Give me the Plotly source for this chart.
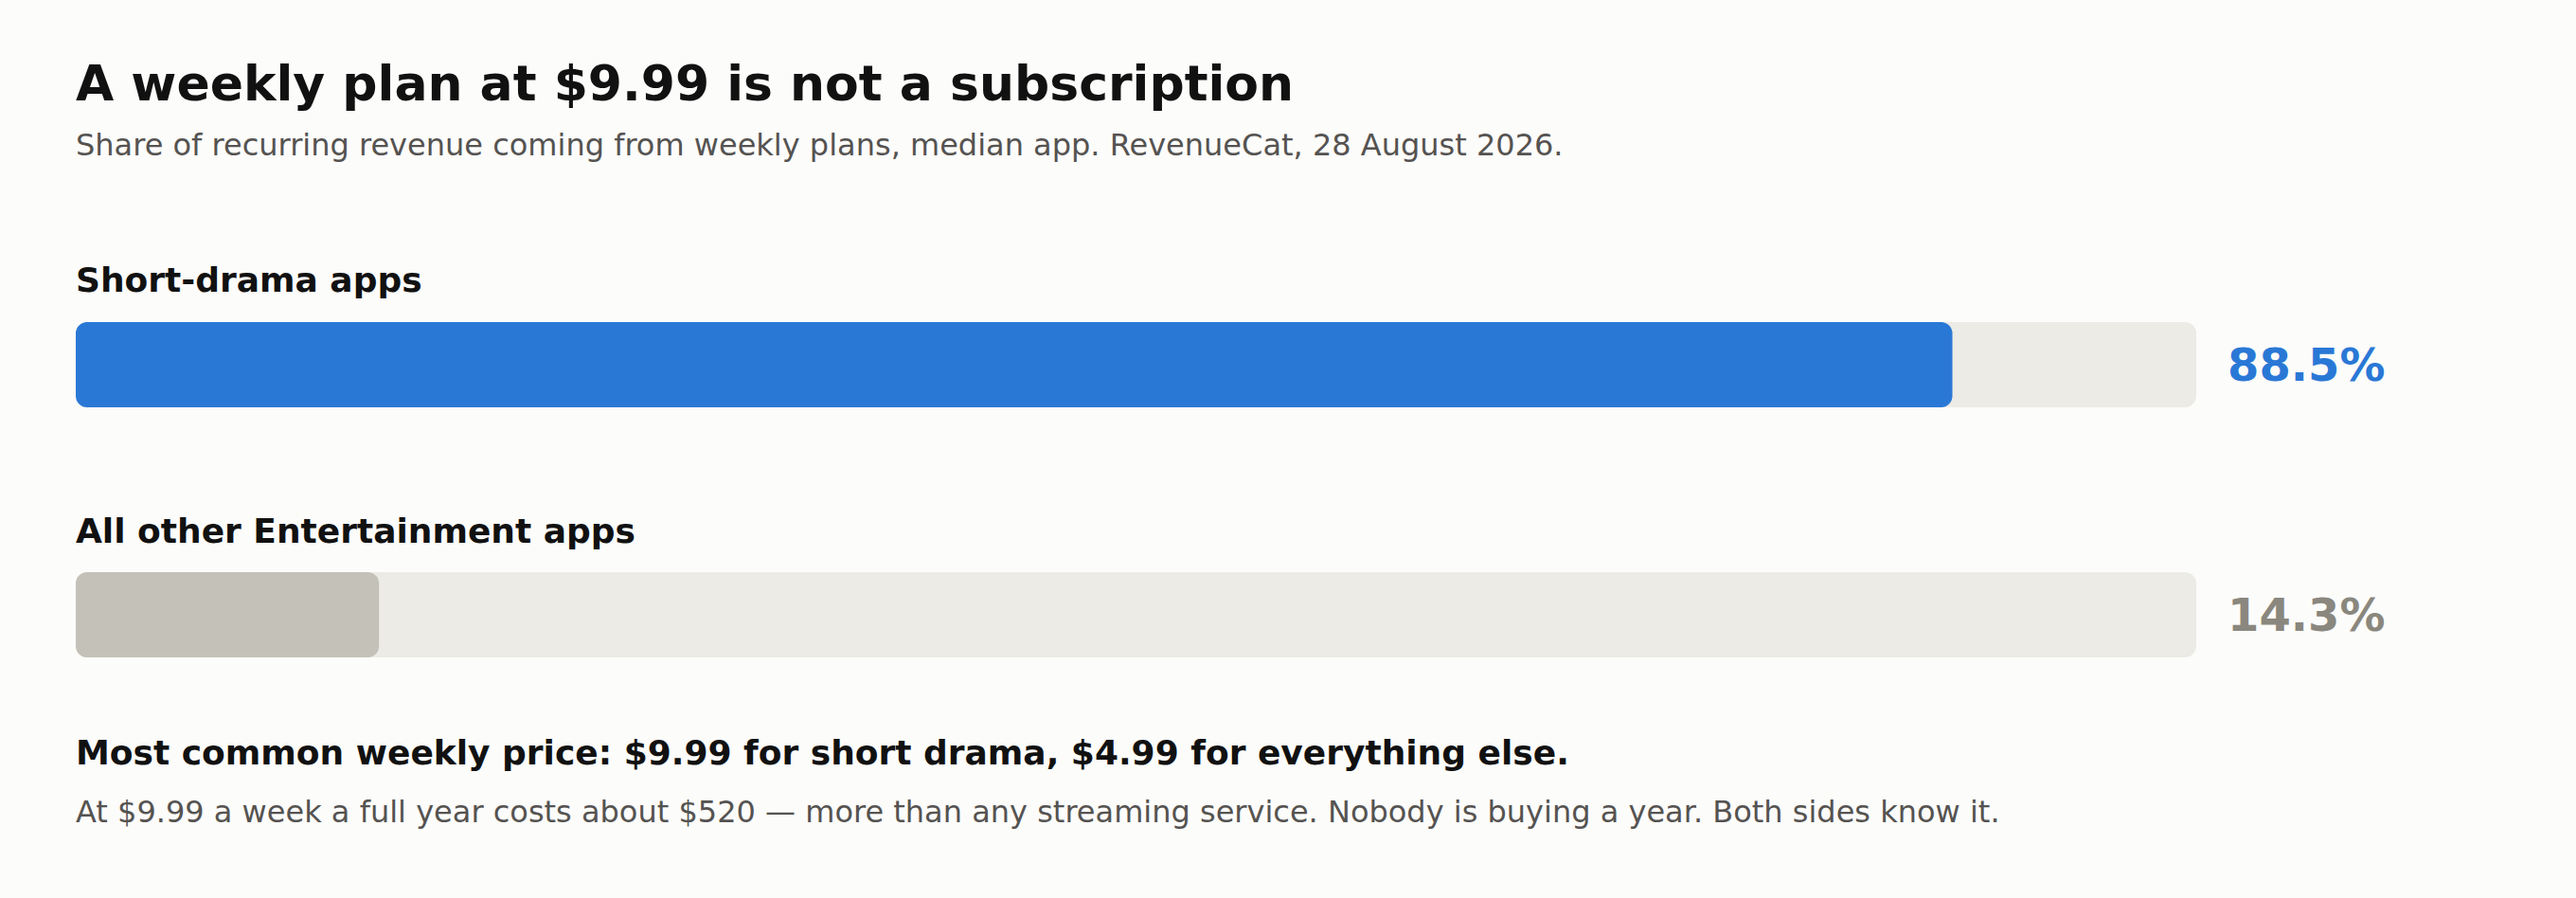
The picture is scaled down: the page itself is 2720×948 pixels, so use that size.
import plotly.graph_objects as go

# ---- data ----
categories = ["Short-drama apps", "All other Entertainment apps"]
weekly_share = [88.5, 14.3]
track_max = [100, 100]
value_labels = ["88.5%", "14.3%"]

title = "A weekly plan at $9.99 is not a subscription"
subtitle = "Share of recurring revenue coming from weekly plans, median app. RevenueCat, 28 August 2026."
note_bold = "Most common weekly price: $9.99 for short drama, $4.99 for everything else."
note_text = "At $9.99 a week a full year costs about $520 \u2014 more than any streaming service. Nobody is buying a year. Both sides know it."

# ---- style ----
W, H = 2720, 948
BG = "#fcfcfa"
TRACK = "#ecebe5"
FILL_COLORS = ["#2a78d6", "#c4c1b9"]
VALUE_COLORS = ["#2a78d6", "#8a877e"]
INK = "#111111"
MUTED = "#555351"
FONT = "DejaVu Sans"
RADIUS = 12

x0_px, x1_px = 80, 2319
c0_px, c1_px = 385, 649  # category centers (px from top)
unit = c1_px - c0_px
top_px = c0_px - unit / 2
bot_px = c1_px + unit / 2
bar_h = 90 / unit

fig = go.Figure()
# an explicit base makes plotly round both ends of each bar
fig.add_trace(go.Bar(
    y=categories, x=track_max, base=[0] * len(categories), orientation="h",
    marker=dict(color=TRACK, cornerradius=RADIUS, line=dict(width=0)),
    width=bar_h, hoverinfo="skip", showlegend=False, yaxis="y",
))
fig.add_trace(go.Bar(
    y=categories, x=weekly_share, base=[0] * len(categories), orientation="h",
    marker=dict(color=FILL_COLORS, cornerradius=RADIUS, line=dict(width=0)),
    width=bar_h, showlegend=False, yaxis="y2",
))


def py(px):
    return 1 - px / H


LX = -2
ann = []
ann.append(dict(text=f"<b>{title}</b>", x=x0_px / W, y=py(88), xref="paper", yref="paper",
                xanchor="left", yanchor="middle", showarrow=False, xshift=LX,
                font=dict(family=FONT, size=52, color=INK)))
ann.append(dict(text=subtitle, x=x0_px / W, y=py(153), xref="paper", yref="paper",
                xanchor="left", yanchor="middle", showarrow=False, xshift=LX,
                font=dict(family=FONT, size=32, color=MUTED)))
label_y = [296, 560]
for cat, ly in zip(categories, label_y):
    ann.append(dict(text=f"<b>{cat}</b>", x=x0_px / W, y=py(ly), xref="paper", yref="paper",
                    xanchor="left", yanchor="middle", showarrow=False, xshift=LX,
                    font=dict(family=FONT, size=36, color=INK)))
for cat, lab, col in zip(categories, value_labels, VALUE_COLORS):
    ann.append(dict(text=f"<b>{lab}</b>", x=100, y=cat, xref="x", yref="y",
                    xanchor="left", yanchor="middle", xshift=31, showarrow=False,
                    font=dict(family=FONT, size=48, color=col)))
ann.append(dict(text=f"<b>{note_bold}</b>", x=x0_px / W, y=py(794), xref="paper", yref="paper",
                xanchor="left", yanchor="middle", showarrow=False, xshift=LX,
                font=dict(family=FONT, size=36, color=INK)))
ann.append(dict(text=note_text, x=x0_px / W, y=py(857), xref="paper", yref="paper",
                xanchor="left", yanchor="middle", showarrow=False, xshift=LX,
                font=dict(family=FONT, size=32, color=MUTED)))

yax = dict(range=[1.5, -0.5], domain=[py(bot_px), py(top_px)], visible=False,
           type="category", categoryorder="array", categoryarray=categories, fixedrange=True)

fig.update_layout(
    width=W, height=H,
    margin=dict(l=0, r=0, t=0, b=0),
    paper_bgcolor=BG, plot_bgcolor=BG,
    barmode="overlay",
    annotations=ann,
    xaxis=dict(range=[0, 100], domain=[x0_px / W, x1_px / W], visible=False, fixedrange=True),
    yaxis=yax,
    yaxis2=dict(**yax, overlaying="y"),
    font=dict(family=FONT),
)

fig.write_html(
    "out.html",
    config={"displayModeBar": False},
    post_script="document.body.style.margin='0';document.body.style.background='" + BG + "';",
)
